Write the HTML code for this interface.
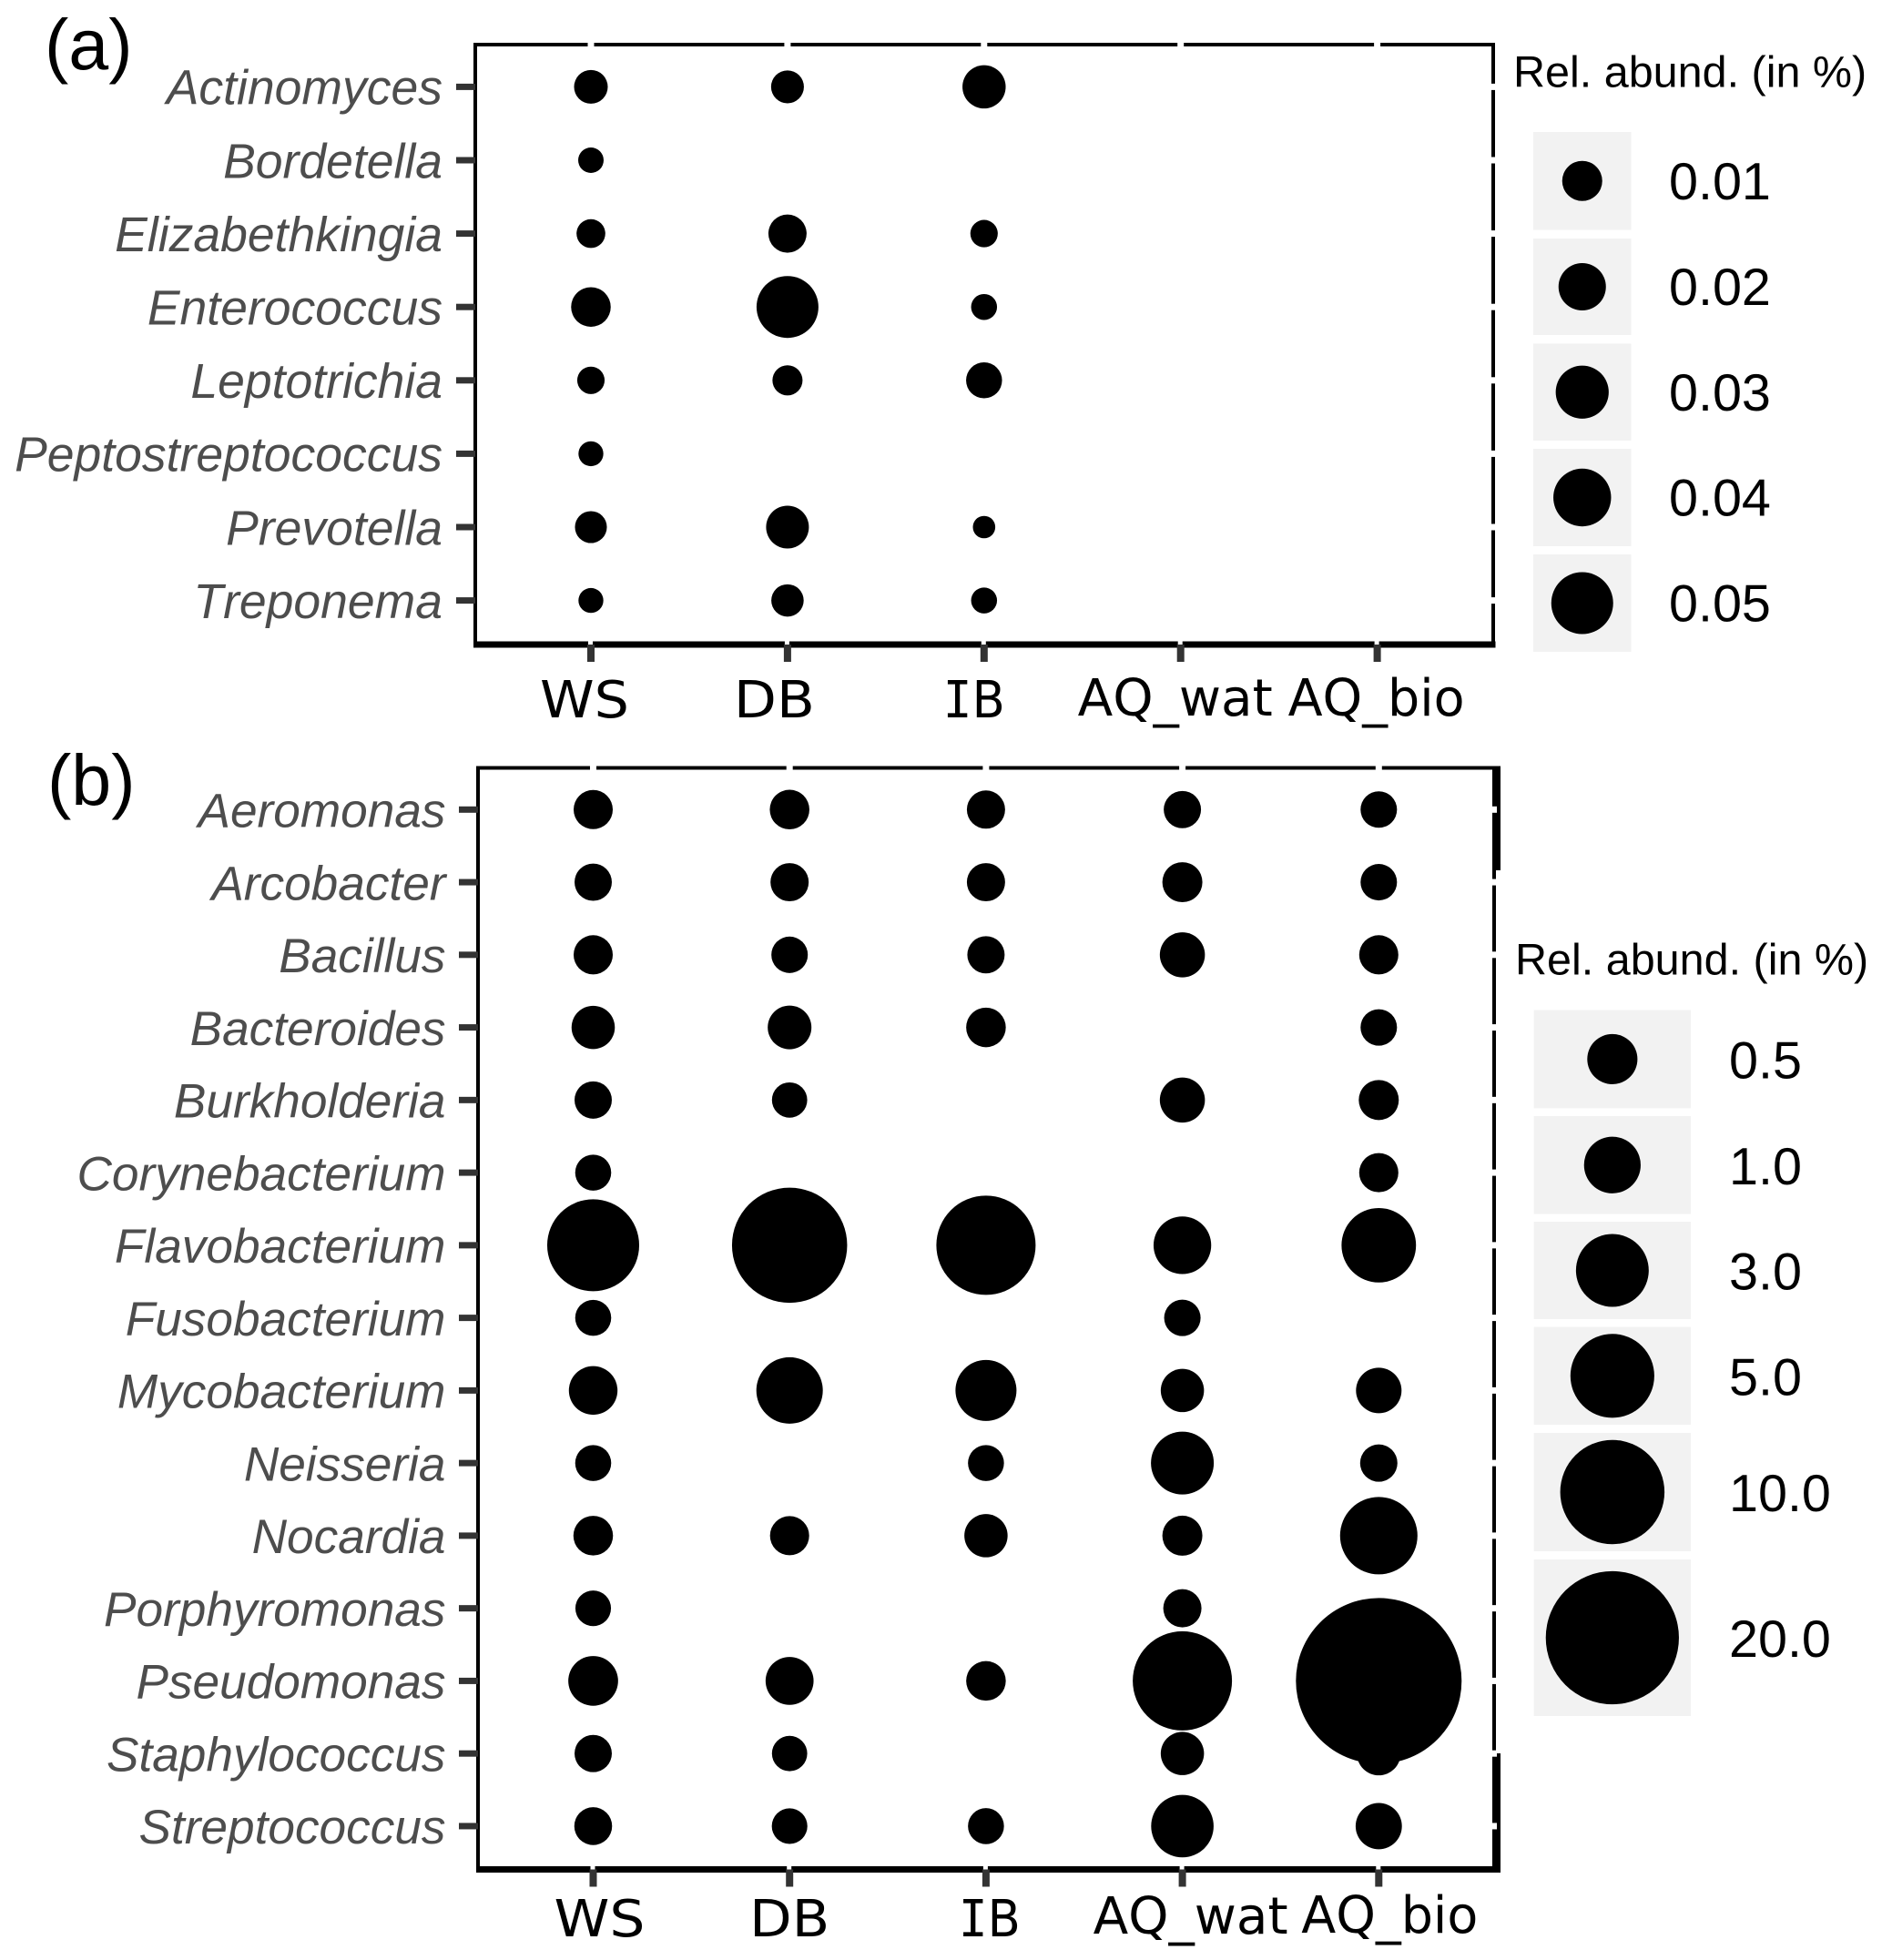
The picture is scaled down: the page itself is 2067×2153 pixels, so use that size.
<!DOCTYPE html>
<html lang="en">
<head>
<meta charset="utf-8">
<title>Relative abundance bubble charts</title>
<style>
html,body{margin:0;padding:0;background:#fff}
svg{display:block}
text{font-family:"Liberation Sans",sans-serif;font-kerning:none}
.ylab{font-style:italic;fill:#4d4d4d;text-anchor:end}
.xlab{font-family:"DejaVu Sans",sans-serif;fill:#000}
</style>
</head>
<body>
<svg id="figure" xmlns="http://www.w3.org/2000/svg" width="2067" height="2153" viewBox="0 0 2067 2153">
  <rect x="0" y="0" width="2067" height="2153" fill="#fff"/>
  <text x="49" y="76" font-size="79">(a)</text>
  <text x="52" y="884" font-size="79">(b)</text>
  <text x="1662" y="95.5" font-size="48.5">Rel. abund. (in %)</text>
  <text x="1664" y="1070.5" font-size="48.5">Rel. abund. (in %)</text>
</svg>
<script>
// ---------- shared categories ----------
const sampleTypes = ['WS', 'DB', 'IB', 'AQ_wat', 'AQ_bio'];

// ---------- panel (a) data ----------
const generaA = ['Actinomyces', 'Bordetella', 'Elizabethkingia', 'Enterococcus', 'Leptotrichia', 'Peptostreptococcus', 'Prevotella', 'Treponema'];
const wsA  = [0.0041, 0.0003, 0.0013, 0.0095, 0.0008, 0.0002, 0.0029, 0.0002];
const dbA  = [0.0035, null, 0.008, 0.05, 0.0019, null, 0.0133, 0.0032];
const ibA  = [0.0139, null, 0.0008, 0.0004, 0.0059, null, 0, 0.0004];
const watA = [null, null, null, null, null, null, null, null];
const bioA = [null, null, null, null, null, null, null, null];
const legendValuesA = [0.01, 0.02, 0.03, 0.04, 0.05];
const legendLabelsA = ['0.01', '0.02', '0.03', '0.04', '0.05'];

// ---------- panel (b) data ----------
const generaB = ['Aeromonas', 'Arcobacter', 'Bacillus', 'Bacteroides', 'Burkholderia', 'Corynebacterium', 'Flavobacterium', 'Fusobacterium', 'Mycobacterium', 'Neisseria', 'Nocardia', 'Porphyromonas', 'Pseudomonas', 'Staphylococcus', 'Streptococcus'];
const wsB  = [0.043, 0.015, 0.043, 0.154, 0.015, 0.004, 6.78, 0.004, 0.405, 0.004, 0.052, 0.002, 0.476, 0.015, 0.021];
const dbB  = [0.052, 0.027, 0.007, 0.171, 0.001, null, 13.37, null, 2.09, null, 0.043, null, 0.369, 0.001, 0.002];
const ibB  = [0.027, 0.027, 0.015, 0.052, null, null, 8.61, null, 1.436, 0.004, 0.154, null, 0.052, null, 0.004];
const watB = [0.015, 0.061, 0.226, null, 0.226, null, 1.093, 0.007, 0.154, 1.641, 0.061, 0.027, 8.61, 0.154, 1.599];
const bioB = [0.007, 0.007, 0.043, 0.007, 0.061, 0.043, 3.276, null, 0.246, 0.015, 3.772, null, 35.4, 0.171, 0.28];
const legendValuesB = [0.5, 1, 3, 5, 10, 20];
const legendLabelsB = ['0.5', '1.0', '3.0', '5.0', '10.0', '20.0'];

const seriesA = [wsA, dbA, ibA, watA, bioA];
const seriesB = [wsB, dbB, ibB, watB, bioB];

const NS = 'http://www.w3.org/2000/svg';
const svg = document.getElementById('figure');

function make(tag, attrs, parent) {
  const el = document.createElementNS(NS, tag);
  for (const k in attrs) el.setAttribute(k, attrs[k]);
  (parent || svg).appendChild(el);
  return el;
}

function drawPanel(p) {
  const xPos = i => p.x0 + p.dx * i;
  const yPos = j => p.y0 + p.dy * j;
  const diam = v => p.sizeBase + p.sizeGain * Math.sqrt(v);

  const panel = make('g', {});
  
  

  // frame
  const frame = make('path', {
    d: 'M' + p.left + ' ' + p.bottom + 'V' + p.top + 'H' + p.right + 'V' + p.bottom,
    fill: 'none', stroke: '#000', 'stroke-width': 4
  }, panel);
  
  

  const base = make('rect', {
    x: p.left - 2, y: p.bottom - 3.5, width: p.baseEnd - p.left + 2, height: 7, fill: '#000'
  }, panel);
  
  

  // thick pieces of right edge (panel b only)
  p.thick.forEach(function (seg) {
    const r = make('rect', {
      x: p.baseEnd - 9, y: seg[0], width: 9, height: seg[1] - seg[0], fill: '#000'
    }, panel);
    
    
  });

  // y axis ticks, white mirror ticks, labels
  p.genera.forEach(function (name, j) {
    const y = yPos(j);
    const tick = make('rect', { x: p.tickLeft, y: y - 3.5, width: p.left - p.tickLeft, height: 7, fill: '#333' }, panel);
    
    

    const mirror = make('rect', { x: p.right - 3, y: y - 3.5, width: 6, height: 7, fill: '#fff' }, panel);
    
    

    const lab = make('text', { x: p.labelRight, y: y + 19.3, 'font-size': p.labelSize, class: 'ylab' }, panel);
    lab.textContent = name;
    
    
  });

  // x axis ticks, labels
  sampleTypes.forEach(function (name, i) {
    const x = xPos(i);
    const mirror = make('rect', { x: x - 3.5, y: p.top - 3, width: 7, height: 6, fill: '#fff' }, panel);
    
    

    const tick = make('rect', { x: x - 4, y: p.bottom, width: 8, height: p.tickLen, fill: '#333' }, panel);
    
    

    const tickTop = make('rect', { x: x - 3, y: p.bottom - 3.5, width: 5, height: 3.5, fill: '#fff' }, panel);
    
    

    const lab = make('text', {
      x: x + p.xLabelNudge[i], y: p.xLabelBase[i], 'font-size': 56, class: 'xlab',
      textLength: p.xLabelFit[i], lengthAdjust: 'spacingAndGlyphs'
    }, panel);
    if (name === 'IB') {
      const a = make('tspan', { 'font-family': '"DejaVu Sans Mono",monospace' }, lab);
      a.textContent = 'I';
      
      
      const b = make('tspan', {}, lab);
      b.textContent = 'B';
      
      
    } else {
      lab.textContent = name;
    }
    
    
  });

  // bubbles
  p.series.forEach(function (vals, i) {
    vals.forEach(function (v, j) {
      if (v === null) return;
      const c = make('circle', { cx: xPos(i), cy: yPos(j), r: diam(v) / 2, fill: '#000' }, panel);
      
      
    });
  });

  // legend
  const legend = make('g', {});
  
  
  p.legendValues.forEach(function (v, k) {
    const box = p.legendBoxes[k];
    const key = make('rect', { x: p.keyX, y: box[0], width: p.keyW, height: box[1] - box[0], fill: '#f2f2f2' }, legend);
    
    

    const dot = make('circle', { cx: p.keyX + p.keyW / 2, cy: (box[0] + box[1]) / 2, r: diam(v) / 2, fill: '#000' }, legend);
    
    

    const t = make('text', { x: p.legendTextX, y: (box[0] + box[1]) / 2 + p.legendTextDy, 'font-size': 57.5 }, legend);
    t.textContent = p.legendLabels[k];
    
    
  });
}

drawPanel({
  id: 'a', genera: generaA, series: seriesA,
  legendValues: legendValuesA, legendLabels: legendLabelsA,
  x0: 649, dx: 215.9, y0: 95.4, dy: 80.6,
  sizeBase: 24.6, sizeGain: 194,
  left: 522, right: 1640, top: 49, bottom: 708, baseEnd: 1642.5,
  tickLeft: 501, tickLen: 19, thick: [],
  labelRight: 486, labelSize: 53.5,
  xLabelNudge: [-56, -59, -45, -113, -98],
  xLabelFit: [98, 89, 68, 214, 194],
  xLabelBase: [788, 788, 788, 786, 786],
  keyX: 1684, keyW: 107.5,
  legendBoxes: [[145, 252.5], [262, 368], [377.5, 484], [493, 600], [609, 716]],
  legendTextX: 1833, legendTextDy: 20
});

drawPanel({
  id: 'b', genera: generaB, series: seriesB,
  legendValues: legendValuesB, legendLabels: legendLabelsB,
  x0: 651.5, dx: 215.7, y0: 889.3, dy: 79.76,
  sizeBase: 38, sizeGain: 24.2,
  left: 525, right: 1641, top: 843.5, bottom: 2053.5, baseEnd: 1648,
  tickLeft: 504, tickLen: 19, thick: [[841.5, 956], [1926, 2057]],
  labelRight: 489.5, labelSize: 53.2,
  xLabelNudge: [-43, -44, -30, -98, -85],
  xLabelFit: [100, 88, 68, 214, 194],
  xLabelBase: [2127, 2127, 2127, 2124, 2123],
  keyX: 1684.7, keyW: 172.3,
  legendBoxes: [[1109.4, 1217.4], [1226, 1333.5], [1342, 1449], [1457.6, 1565], [1574, 1704], [1713, 1885]],
  legendTextX: 1899, legendTextDy: 21
});
</script>
</body>
</html>
